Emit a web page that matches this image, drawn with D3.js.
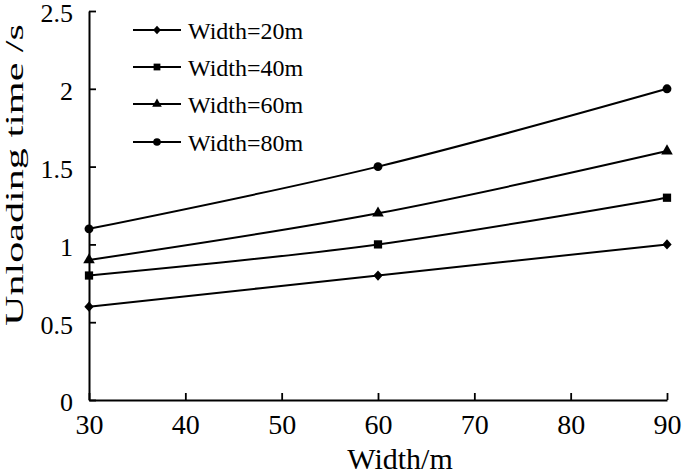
<!DOCTYPE html>
<html>
<head>
<meta charset="utf-8">
<script src="https://cdn.jsdelivr.net/npm/d3@7"></script>
<style>
  html, body { margin: 0; padding: 0; background: #fff; }
  svg { display: block; }
</style>
</head>
<body>
<svg id="chart" width="685" height="476"></svg>
<script>
const xValues = [30, 60, 90];
const seriesNames = ["Width=20m", "Width=40m", "Width=60m", "Width=80m"];
const seriesSymbols = ["diamond", "square", "triangle", "circle"];
const width20 = [0.6, 0.8, 1.0];
const width40 = [0.8, 1.0, 1.3];
const width60 = [0.9, 1.2, 1.6];
const width80 = [1.1, 1.5, 2.0];
const xTicks = [30, 40, 50, 60, 70, 80, 90];
const yTicks = [0, 0.5, 1, 1.5, 2, 2.5];
const xTitle = "Width/m";
const yTitle = "Unloading time /s";

const seriesValues = [width20, width40, width60, width80];
const FONT = "'Liberation Serif', Tinos, 'Times New Roman', Times, serif";

const svg = d3.select("#chart").attr("font-family", FONT);
const margin = { left: 89, right: 18, top: 11, bottom: 76 };
const W = 685, H = 476;

const x = d3.scaleLinear().domain([30, 90]).range([margin.left, W - margin.right]);
const y = d3.scaleLinear().domain([0, 2.5]).range([H - margin.bottom, margin.top]);

// a squarer diamond than d3's default
const wideDiamond = {
  draw(context, size) {
    const r = Math.sqrt(size / 2);
    context.moveTo(0, -r * 1.05);
    context.lineTo(r * 0.95, 0);
    context.lineTo(0, r * 1.05);
    context.lineTo(-r * 0.95, 0);
    context.closePath();
  }
};

const symbolTypes = {
  diamond: wideDiamond,
  square: d3.symbolSquare,
  triangle: d3.symbolTriangle,
  circle: d3.symbolCircle
};
const symbolSizes = { diamond: 48, square: 68, triangle: 58, circle: 62 };
const legendSizes = { diamond: 34, square: 46, triangle: 40, circle: 46 };

// Axes
const xAxis = d3.axisBottom(x).tickValues(xTicks).tickSizeInner(-7).tickSizeOuter(0).tickPadding(14).tickFormat(d3.format("d"));
const yAxis = d3.axisLeft(y).tickValues(yTicks).tickSizeInner(-7).tickSizeOuter(0).tickPadding(16).tickFormat(d => String(d));

const gx = svg.append("g").attr("transform", `translate(0,${y(0)})`).call(xAxis)
  .attr("font-family", FONT).attr("font-size", null);
gx.select(".domain").attr("stroke", "#000").attr("stroke-width", 2);
gx.selectAll(".tick line").attr("stroke", "#000").attr("stroke-width", 1.8);
gx.selectAll(".tick text").attr("font-size", 28).attr("dy", "0.72em").attr("fill", "#000");

const gy = svg.append("g").attr("transform", `translate(${x(30)},0)`).call(yAxis)
  .attr("font-family", FONT).attr("font-size", null);
gy.select(".domain").attr("stroke", "#000").attr("stroke-width", 2);
gy.selectAll(".tick line").attr("stroke", "#000").attr("stroke-width", 1.8);
gy.selectAll(".tick text").attr("font-size", 26).attr("dy", "0.42em").attr("fill", "#000");

// Axis titles
svg.append("text")
  .attr("x", (x(30) + x(90)) / 2 + 22)
  .attr("y", 469)
  .attr("text-anchor", "middle")
  .attr("font-size", 30)
  .attr("fill", "#000")
  .text(xTitle);

svg.append("text")
  .attr("transform", `translate(23,${175}) rotate(-90)`)
  .attr("text-anchor", "middle")
  .attr("font-size", 26)
  .attr("fill", "#000")
  .attr("textLength", 302)
  .attr("lengthAdjust", "spacingAndGlyphs")
  .text(yTitle);

// Lines
const line = d3.line()
  .x((d, i) => x(xValues[i]))
  .y(d => y(d))
  .curve(d3.curveCatmullRom.alpha(0.5));

const series = svg.append("g").selectAll("g.series")
  .data(seriesValues)
  .join("g").attr("class", "series");

series.append("path")
  .attr("d", d => line(d))
  .attr("fill", "none")
  .attr("stroke", "#000")
  .attr("stroke-width", 2);

series.each(function(vals, si) {
  const sym = seriesSymbols[si];
  d3.select(this).selectAll("path.marker")
    .data(vals)
    .join("path")
    .attr("class", "marker")
    .attr("transform", (d, i) => `translate(${x(xValues[i])},${y(d)})`)
    .attr("d", d3.symbol().type(symbolTypes[sym]).size(symbolSizes[sym]))
    .attr("fill", "#000");
});

// Legend
const legendY = [30, 67, 104, 142];
const legend = svg.append("g").selectAll("g.leg")
  .data(seriesNames)
  .join("g").attr("class", "leg")
  .attr("transform", (d, i) => `translate(0,${legendY[i]})`);

legend.append("line")
  .attr("x1", 133).attr("x2", 181).attr("y1", 0).attr("y2", 0)
  .attr("stroke", "#000").attr("stroke-width", 2);

legend.append("path")
  .attr("transform", "translate(157,0)")
  .attr("d", (d, i) => d3.symbol().type(symbolTypes[seriesSymbols[i]]).size(legendSizes[seriesSymbols[i]])())
  .attr("fill", "#000");

legend.append("text")
  .attr("x", 188)
  .attr("y", 9)
  .attr("font-size", 24)
  .attr("fill", "#000")
  .text(d => d);
</script>
</body>
</html>
